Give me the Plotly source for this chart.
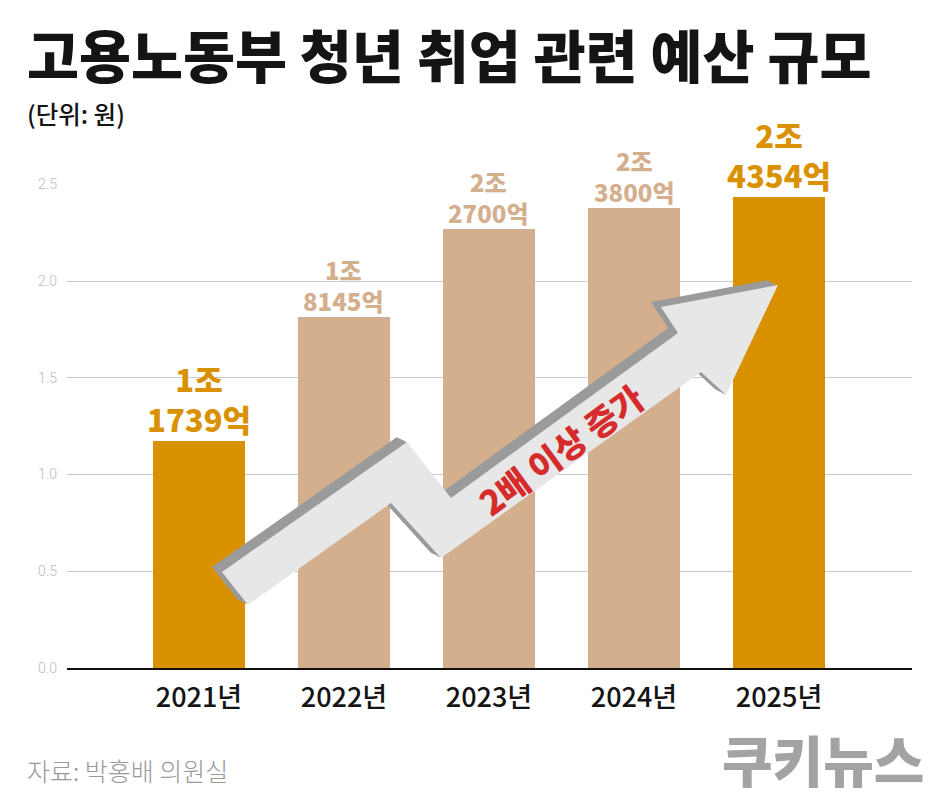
import plotly.graph_objects as go

# ---- data ----
years = ["2021년", "2022년", "2023년", "2024년", "2025년"]
values = [1.1739, 1.8145, 2.27, 2.38, 2.4354]   # 조 원
trillion_labels = ["1조", "1조", "2조", "2조", "2조"]
billion_labels = ["1739억", "8145억", "2700억", "3800억", "4354억"]
highlight = [True, False, False, False, True]
ytick_vals = [0, 0.5, 1.0, 1.5, 2.0, 2.5]
ytick_text = ["0.0", "0.5", "1.0", "1.5", "2.0", "2.5"]

ORANGE = "#DA9100"
TAN = "#D3AF8E"
KR = "Noto Sans CJK KR"

# plot area in pixels
W_FIG, H_FIG = 950, 806
L, R, T, B = 67, 912, 184, 668
PW, PH = R - L, B - T


def px(x):
    return (x - L) / PW


def py(y):
    return (B - y) / PH


colors = [ORANGE if h else TAN for h in highlight]

fig = go.Figure(
    go.Bar(
        x=years,
        y=values,
        marker=dict(color=colors, line=dict(width=0)),
        width=0.63,
        hoverinfo="skip",
    )
)

annotations = []
for yr, v, tl, bl, h in zip(years, values, trillion_labels, billion_labels, highlight):
    size = 31 if h else 24
    col = ORANGE if h else TAN
    annotations.append(dict(
        x=yr, y=v, xref="x", yref="y", text=f"{tl}<br>{bl}", showarrow=False,
        yanchor="bottom", yshift=-2 if h else -3, align="center",
        font=dict(family=KR, size=size, color=col, weight=900),
    ))

# title / subtitle / footer
annotations += [
    dict(x=px(25), y=py(53), xref="paper", yref="paper", xanchor="left", yanchor="middle",
         text="고용노동부 청년 취업 관련 예산 규모", showarrow=False,
         font=dict(family=KR, size=56.5, color="#141414", weight=900)),
    dict(x=px(25), y=py(113), xref="paper", yref="paper", xanchor="left", yanchor="middle",
         text="(단위: 원)", showarrow=False,
         font=dict(family=KR, size=24.5, color="#141414", weight=500)),
    dict(x=px(25), y=py(770), xref="paper", yref="paper", xanchor="left", yanchor="middle",
         text="자료: 박홍배 의원실", showarrow=False,
         font=dict(family=KR, size=25, color="#9A9A9A", weight=300)),
    dict(x=px(926), y=py(758), xref="paper", yref="paper", xanchor="right", yanchor="middle",
         text="쿠키뉴스", showarrow=False,
         font=dict(family=KR, size=55, color="#A3A3A3", weight=900)),
    dict(x=px(560), y=py(449), xref="paper", yref="paper", xanchor="center", yanchor="middle",
         text="2배 이상 증가", showarrow=False, textangle=-36,
         font=dict(family=KR, size=34, color="#D62B2B", weight=900)),
]

# decorative zig-zag arrow (pixel outline -> paper coords)
arrow_px = [(222, 572), (407, 442), (451, 498), (678, 333), (661, 307), (778, 285),
            (726, 395), (701, 372), (441, 558), (391, 503), (248, 605)]


def path_for(dx, dy):
    pts = [(px(x + dx), py(y + dy)) for x, y in arrow_px]
    return "M " + " L ".join(f"{a:.5f},{b:.5f}" for a, b in pts) + " Z"


shapes = []
steps = 8
for k in range(steps, 0, -1):
    t = k / steps
    shapes.append(dict(type="path", path=path_for(-10 * t, -5 * t), xref="paper", yref="paper",
                       fillcolor="#9B9B9B", line=dict(width=0), layer="above"))
shapes.append(dict(type="path", path=path_for(0, 0), xref="paper", yref="paper",
                   fillcolor="#E7E7E7", line=dict(width=0), layer="above"))

fig.update_layout(
    width=W_FIG, height=H_FIG,
    margin=dict(l=L, r=W_FIG - R, t=T, b=H_FIG - B, pad=0),
    paper_bgcolor="white", plot_bgcolor="white",
    showlegend=False,
    bargap=0,
    annotations=annotations,
    shapes=shapes,
    xaxis=dict(
        type="category", range=[-0.91, 4.917],
        showgrid=False, ticks="", showline=True, linecolor="#111111", linewidth=2,
        tickfont=dict(family=KR, size=27, color="#141414", weight=500),
        ticklabelstandoff=5, fixedrange=True,
    ),
    yaxis=dict(
        range=[0, 2.502], tickvals=ytick_vals, ticktext=ytick_text,
        showgrid=True, gridcolor="#C9C9C9", gridwidth=1, zeroline=False,
        ticks="", tickfont=dict(family="Roboto", size=14, color="#BDBDBD", weight=300),
        ticklabelstandoff=9, fixedrange=True,
    ),
)

fig.write_html("out.html")
